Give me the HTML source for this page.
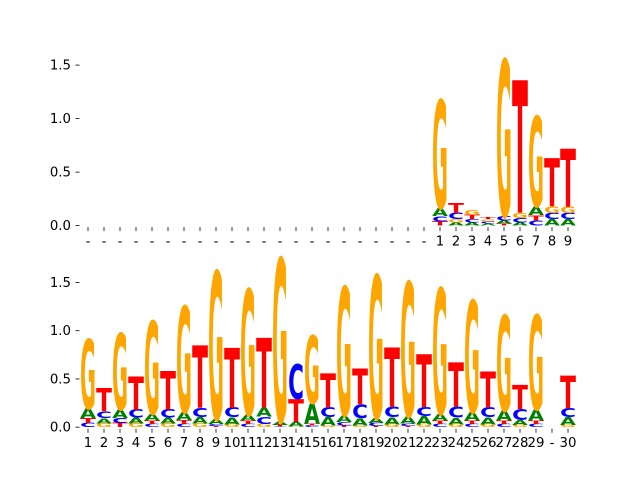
<!DOCTYPE html>
<html><head><meta charset="utf-8"><style>
body{margin:0;background:#fff;}
svg{display:block;}
text{font-family:"DejaVu Sans","Liberation Sans",sans-serif;}
</style></head><body>
<svg id="fig" width="640" height="480" viewBox="0 0 640 480" xmlns="http://www.w3.org/2000/svg"></svg>
<script>
// Top panel data (31 columns; first 22 empty)
const topLabels = ["-","-","-","-","-","-","-","-","-","-","-","-","-","-","-","-","-","-","-","-","-","-","1","2","3","4","5","6","7","8","9"];
const topA = [0,0,0,0,0,0,0,0,0,0,0,0,0,0,0,0,0,0,0,0,0,0,0.075,0.03,0.03,0.02,0.03,0.03,0.08,0.06,0.06];
const topC = [0,0,0,0,0,0,0,0,0,0,0,0,0,0,0,0,0,0,0,0,0,0,0.05,0.06,0.03,0.02,0.04,0.04,0.05,0.06,0.06];
const topG = [0,0,0,0,0,0,0,0,0,0,0,0,0,0,0,0,0,0,0,0,0,0,1.01,0.03,0.05,0.02,1.46,0.05,0.84,0.06,0.06];
const topT = [0,0,0,0,0,0,0,0,0,0,0,0,0,0,0,0,0,0,0,0,0,0,0.04,0.09,0.04,0.02,0.02,1.24,0.05,0.45,0.54];
// Bottom panel data
const botLabels = ["1","2","3","4","5","6","7","8","9","10","11","12","13","14","15","16","17","18","19","20","21","22","23","24","25","26","27","28","29","-","30"];
const botA = [0.10,0.055,0.09,0.06,0.07,0.06,0.08,0.065,0.05,0.075,0.06,0.095,0.035,0.05,0.21,0.085,0.07,0.075,0.05,0.075,0.075,0.085,0.07,0.07,0.085,0.075,0.10,0.05,0.115,0,0.08];
const botC = [0.045,0.07,0.05,0.085,0.035,0.085,0.035,0.093,0.02,0.10,0.035,0.075,0.005,0.36,0.02,0.10,0.035,0.14,0.03,0.11,0.025,0.095,0.035,0.115,0.035,0.10,0.035,0.115,0.035,0,0.095];
const botG = [0.72,0.04,0.79,0.04,0.96,0.04,1.10,0.04,1.53,0.03,1.30,0.035,1.69,0.005,0.70,0.02,1.33,0.02,1.48,0.03,1.39,0.03,1.30,0.03,1.16,0.03,0.99,0.025,0.98,0,0.025];
const botT = [0.05,0.245,0.045,0.345,0.035,0.40,0.04,0.645,0.015,0.62,0.035,0.725,0.02,0.235,0.02,0.35,0.02,0.37,0.015,0.615,0.015,0.545,0.035,0.46,0.035,0.37,0.035,0.25,0.035,0,0.34];
const yTicks = [0, 0.5, 1.0, 1.5];
const yTickLabels = ["0.0","0.5","1.0","1.5"];

const NS = "http://www.w3.org/2000/svg";
const fig = document.getElementById('fig');
const colors = {A:"#008000", C:"#0000ff", G:"#ffa500", T:"#ff0000"};
function mk(tag, attrs, parent){const e=document.createElementNS(NS,tag);for(const k in attrs)e.setAttribute(k,attrs[k]);parent.appendChild(e);return e;}

function panel(name, base, pxPerUnit, labels, A, C, G, T){
  const g = mk('g', {}, fig);
  
  
  const x0 = 80, colW = 16;
  const xs = i => x0 + colW*(i+0.5);
  const ys = v => base - v*pxPerUnit;
  yTicks.forEach((v,k)=>{
    const y = ys(v);
    const t = mk('line', {x1:75.5,x2:79.5,y1:y,y2:y,stroke:"#000","stroke-width":0.8}, g);
    
    
    const l = mk('text', {x:71,y:y+4.5,"text-anchor":"end","font-size":13.3,fill:"#000"}, g);
    
    
    l.textContent = yTickLabels[k];
  });
  labels.forEach((lab,i)=>{
    const x = xs(i);
    const t = mk('line', {x1:x,x2:x,y1:base+1.5,y2:base+5.5,stroke:"#000","stroke-width":0.8}, g);
    
    
    const l = mk('text', {x:x,y:base+20,"text-anchor":"middle","font-size":13.3,fill:"#000"}, g);
    
    
    l.textContent = lab;
    const stack = [["A",A[i]],["C",C[i]],["G",G[i]],["T",T[i]]].filter(d=>d[1]>0).sort((a,b)=>a[1]-b[1]);
    let cum = 0;
    stack.forEach(([ch,v])=>{
      const yb = ys(cum), h = v*pxPerUnit;
      cum += v;
      const sy = h/73;
      const tx = mk('text', {x:0,y:0,"font-size":100,"font-weight":"bold",fill:colors[ch],
        textLength:15.8, lengthAdjust:"spacingAndGlyphs",
        transform:`translate(${x-7.9},${yb}) scale(1,${sy})`}, g);
      
      
      tx.textContent = ch;
    });
  });
}
panel('top-logo-panel', 225.6, 107, topLabels, topA, topC, topG, topT);
panel('bottom-logo-panel', 427.2, 96.5, botLabels, botA, botC, botG, botT);
</script>
</body></html>
